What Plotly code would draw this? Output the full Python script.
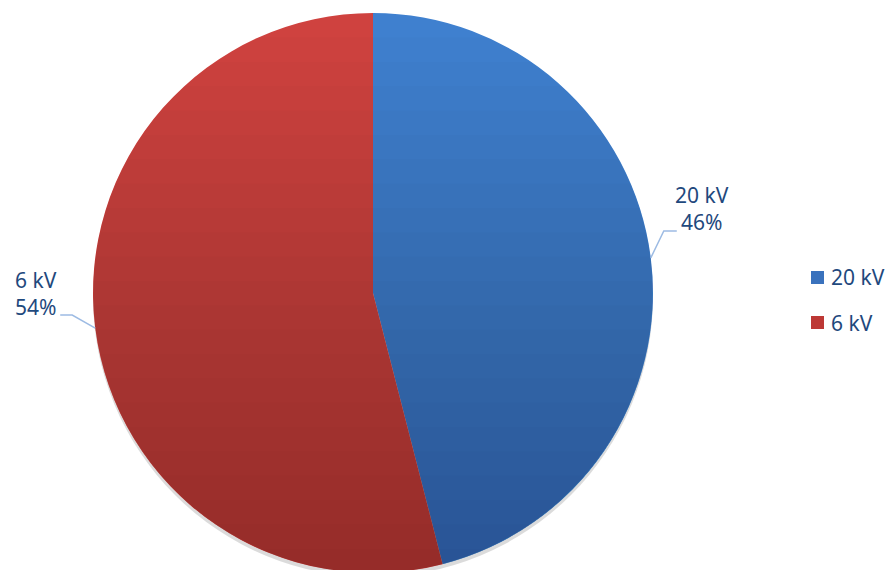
import math
import plotly.graph_objects as go

# Share of connected load by voltage level
labels = ["20 kV", "6 kV"]
values = [46, 54]
top_colors = ["#3f80cf", "#cf423f"]

TEXT_COLOR = "#1f497d"
FONT = "Noto Sans"
W, H = 887, 576

# Pie geometry in pixels (page origin top-left)
CX, CY, R = 373, 293, 280
dom_x = [(CX - R) / W, (CX + R) / W]
dom_y = [1 - (CY + R) / H, 1 - (CY - R) / H]


def px(x, y):
    """Pixel position -> paper coordinates."""
    return x / W, 1 - y / H


fig = go.Figure(
    go.Pie(
        labels=labels,
        values=values,
        sort=False,
        direction="clockwise",
        rotation=0,
        marker=dict(colors=top_colors, line=dict(width=0)),
        textinfo="none",
        hoverinfo="label+percent",
        domain=dict(x=dom_x, y=dom_y),
        showlegend=False,
    )
)

shapes = []

# soft drop shadow under the pie
x0, y0 = px(CX - R, CY - R + 4)
x1, y1 = px(CX + R, CY + R + 4)
shapes.append(dict(type="circle", xref="paper", yref="paper", x0=x0, y0=y1, x1=x1, y1=y0,
                   fillcolor="rgba(0,0,0,0.14)", line=dict(width=0), layer="below"))

# vertical shading: stacked circular segments darken the lower part of the pie
n_layers = 22
alpha = 1 - (1 - 0.22) ** (1 / n_layers)
for k in range(n_layers):
    yk = CY - R + (k + 1) * (2 * R) / (n_layers + 1)
    dy = yk - CY
    half = math.sqrt(max(R * R - dy * dy, 0))
    a0 = math.atan2(dy, half)
    a1 = math.pi - a0
    pts = []
    steps = 60
    for s in range(steps + 1):
        a = a0 + (a1 - a0) * s / steps
        pts.append(px(CX + R * math.cos(a), CY + R * math.sin(a)))
    path = "M " + " L ".join(f"{p[0]:.5f},{p[1]:.5f}" for p in pts) + " Z"
    shapes.append(dict(type="path", xref="paper", yref="paper", path=path,
                       fillcolor=f"rgba(0,0,0,{alpha:.4f})", line=dict(width=0), layer="above"))

# outside labels with elbow leader lines, placed at each slice's mid-angle
total = sum(values)
annotations = []
start = 0.0
for lab, val in zip(labels, values):
    frac = val / total
    mid = (start + frac / 2) * 2 * math.pi
    start += frac
    ex = CX + R * math.sin(mid)
    ey = CY - R * math.cos(mid)
    pct = round(frac * 100)
    text = f"{lab}<br>{pct}%"
    if math.sin(mid) >= 0:
        bx, by = ex + 13, ey - 27
        endx, endy = bx + 13, by
        annotations.append(dict(x=px(endx + 25, 0)[0], y=px(0, endy - 22)[1], xref="paper", yref="paper",
                                text=text, showarrow=False, xanchor="center", yanchor="middle",
                                align="center", font=dict(family=FONT, size=21, color=TEXT_COLOR)))
    else:
        bx, by = ex - 23, ey - 13
        endx, endy = bx - 12, by
        annotations.append(dict(x=px(endx - 1, 0)[0], y=px(0, endy - 22)[1], xref="paper", yref="paper",
                                text=text, showarrow=False, xanchor="right", yanchor="middle",
                                align="left", font=dict(family=FONT, size=21, color=TEXT_COLOR)))
    p = [px(ex, ey), px(bx, by), px(endx, endy)]
    shapes.append(dict(type="path", xref="paper", yref="paper",
                       path=f"M {p[0][0]:.5f},{p[0][1]:.5f} L {p[1][0]:.5f},{p[1][1]:.5f} L {p[2][0]:.5f},{p[2][1]:.5f}",
                       line=dict(color="#9dbbe3", width=1.5), layer="above"))

# legend on the right
legend_colors = ["#3a72bd", "#bd3835"]
for i, (lab, col) in enumerate(zip(labels, legend_colors)):
    yc = 277.5 + i * 45
    sx0, sy0 = px(811, yc - 6.5)
    sx1, sy1 = px(824, yc + 6.5)
    shapes.append(dict(type="rect", xref="paper", yref="paper", x0=sx0, y0=sy1, x1=sx1, y1=sy0,
                       fillcolor=col, line=dict(width=0)))
    tx, ty = px(829, yc)
    annotations.append(dict(x=tx, y=ty, xref="paper", yref="paper", text=lab, showarrow=False,
                            xanchor="left", yanchor="middle",
                            font=dict(family=FONT, size=21, color=TEXT_COLOR)))

fig.update_layout(
    width=W, height=H,
    margin=dict(l=0, r=0, t=0, b=0),
    paper_bgcolor="white",
    plot_bgcolor="white",
    shapes=shapes,
    annotations=annotations,
)

fig.write_html("out.html")
